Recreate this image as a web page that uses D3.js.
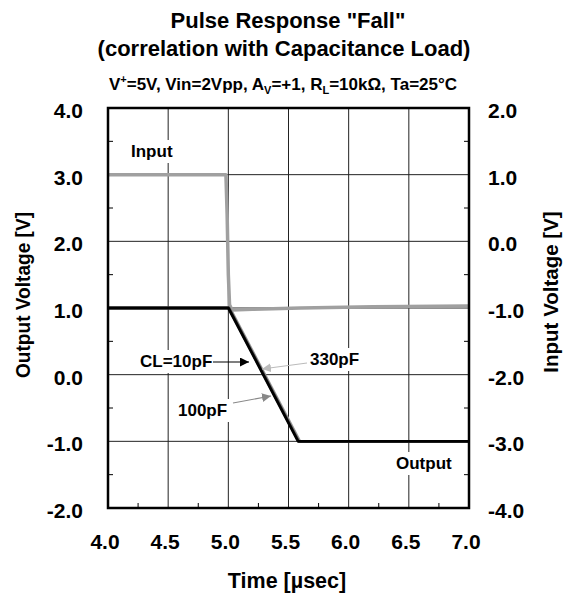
<!DOCTYPE html>
<html>
<head>
<meta charset="utf-8">
<script src="https://cdn.jsdelivr.net/npm/d3@7"></script>
<style>
  body { margin: 0; background: #fff; }
  text { font-family: "Liberation Sans", Arial, sans-serif; font-weight: bold; fill: #000; }
</style>
</head>
<body>
<div id="chart"></div>
<script>
// Data
const timeTicks = [4.0, 4.5, 5.0, 5.5, 6.0, 6.5, 7.0];
const outTicks = [-2, -1, 0, 1, 2, 3, 4];
const inTicks = [-4, -3, -2, -1, 0, 1, 2];

// Input pulse (right axis)
const inputT = [4.0, 4.98, 4.99, 5.0, 5.01, 5.03, 5.2, 5.6, 6.2, 7.0];
const inputV = [1.0, 1.0, 0.4, -0.5, -0.95, -1.03, -1.02, -1.0, -0.98, -0.97];

// Output for each load capacitance (left axis)
const out10T = [4.0, 5.0, 5.58, 7.0];
const out10V = [1.0, 1.0, -1.0, -1.0];
const out100T = [4.0, 5.005, 5.585, 7.0];
const out100V = [1.0, 1.0, -1.0, -1.0];
const out330T = [4.0, 5.012, 5.595, 7.0];
const out330V = [1.0, 1.0, -1.0, -1.0];

// Layout
const margin = { top: 108, right: 108, bottom: 86, left: 108 },
    width = 577 - margin.left - margin.right,
    height = 594 - margin.top - margin.bottom;

const svg = d3.select("#chart")
    .append("svg")
    .attr("width", 577)
    .attr("height", 594);

const g = svg.append("g")
    .attr("transform", `translate(${margin.left},${margin.top})`);

// Scales
const x = d3.scaleLinear().domain([4, 7]).range([0, width]);
const yL = d3.scaleLinear().domain([-2, 4]).range([height, 0]);
const yR = d3.scaleLinear().domain([-4, 2]).range([height, 0]);

// Titles
svg.append("text").attr("x", 288).attr("y", 28).attr("text-anchor", "middle")
    .style("font-size", "22px").text('Pulse Response "Fall"');
svg.append("text").attr("x", 284).attr("y", 56).attr("text-anchor", "middle")
    .style("font-size", "22px").text("(correlation with Capacitance Load)");

const sub = svg.append("text").attr("x", 283).attr("y", 90).attr("text-anchor", "middle")
    .style("font-size", "17px");
sub.append("tspan").text("V");
sub.append("tspan").attr("dy", -7).style("font-size", "11px").text("+");
sub.append("tspan").attr("dy", 7).text("=5V, Vin=2Vpp, A");
sub.append("tspan").attr("dy", 4).style("font-size", "11px").text("V");
sub.append("tspan").attr("dy", -4).text("=+1, R");
sub.append("tspan").attr("dy", 4).style("font-size", "11px").text("L");
sub.append("tspan").attr("dy", -4).text("=10kΩ, Ta=25°C");

// Grid lines
g.append("g")
    .selectAll("line")
    .data(timeTicks.slice(1, -1))
    .join("line")
    .attr("x1", d => x(d)).attr("x2", d => x(d))
    .attr("y1", 0).attr("y2", height)
    .attr("stroke", "#222").attr("stroke-width", 1);

g.append("g")
    .selectAll("line")
    .data(outTicks.slice(1, -1))
    .join("line")
    .attr("x1", 0).attr("x2", width)
    .attr("y1", d => yL(d)).attr("y2", d => yL(d))
    .attr("stroke", "#222").attr("stroke-width", 1);

// Minor ticks (inside)
const minorX = d3.range(4.25, 7, 0.5);
g.append("g").selectAll("line").data(minorX).join("line")
    .attr("x1", d => x(d)).attr("x2", d => x(d))
    .attr("y1", height).attr("y2", height - 5)
    .attr("stroke", "#000").attr("stroke-width", 1);

const minorY = d3.range(-1.5, 4, 1);
g.append("g").selectAll("line").data(minorY).join("line")
    .attr("x1", 0).attr("x2", 5)
    .attr("y1", d => yL(d)).attr("y2", d => yL(d))
    .attr("stroke", "#000").attr("stroke-width", 1);
g.append("g").selectAll("line").data(minorY).join("line")
    .attr("x1", width).attr("x2", width - 5)
    .attr("y1", d => yL(d)).attr("y2", d => yL(d))
    .attr("stroke", "#000").attr("stroke-width", 1);

// Label with a white box that hides the grid behind it
function boxLabel(px, py, txt) {
    const t = g.append("text").attr("x", px).attr("y", py)
        .style("font-size", "17px").text(txt);
    const b = t.node().getBBox();
    g.insert("rect", "text")
        .attr("x", b.x - 3).attr("y", b.y - 2)
        .attr("width", b.width + 6).attr("height", b.height + 4)
        .attr("fill", "#fff");
    return t;
}

// Lines
const lineL = d3.line().x(d => x(d[0])).y(d => yL(d[1]));
const lineR = d3.line().x(d => x(d[0])).y(d => yR(d[1]));

g.append("path").datum(d3.zip(inputT, inputV))
    .attr("d", lineR)
    .attr("fill", "none").attr("stroke", "#a0a0a0").attr("stroke-width", 3.5)
    .attr("stroke-linejoin", "round");

const outputs = [
    { t: out330T, v: out330V, color: "#9a9a9a" },
    { t: out100T, v: out100V, color: "#555" },
    { t: out10T, v: out10V, color: "#000" }
];
outputs.forEach(s => {
    g.append("path").datum(d3.zip(s.t, s.v))
        .attr("d", lineL)
        .attr("fill", "none").attr("stroke", s.color).attr("stroke-width", 2.8)
        .attr("stroke-linejoin", "round");
});

// Frame
g.append("rect").attr("x", 0).attr("y", 0).attr("width", width).attr("height", height)
    .attr("fill", "none").attr("stroke", "#000").attr("stroke-width", 2.5);

// Tick labels
svg.append("g").selectAll("text").data(timeTicks).join("text")
    .attr("x", d => margin.left + x(d) - 3).attr("y", 549)
    .attr("text-anchor", "middle").style("font-size", "21px")
    .text(d => d.toFixed(1));

svg.append("g").selectAll("text").data(outTicks).join("text")
    .attr("x", 83).attr("y", d => margin.top + yL(d)).attr("dy", "0.48em")
    .attr("text-anchor", "end").style("font-size", "21px")
    .text(d => d.toFixed(1));

svg.append("g").selectAll("text").data(inTicks).join("text")
    .attr("x", 488).attr("y", d => margin.top + yR(d)).attr("dy", "0.48em")
    .attr("text-anchor", "start").style("font-size", "21px")
    .text(d => d.toFixed(1));

// Axis titles
svg.append("text").attr("x", 287).attr("y", 588).attr("text-anchor", "middle")
    .style("font-size", "21.5px").text("Time [µsec]");

svg.append("text").attr("transform", "translate(30,295) rotate(-90)")
    .attr("text-anchor", "middle").style("font-size", "19.5px")
    .attr("textLength", 166).attr("lengthAdjust", "spacingAndGlyphs")
    .text("Output Voltage [V]");

svg.append("text").attr("transform", "translate(558,292) rotate(-90)")
    .attr("text-anchor", "middle").style("font-size", "20.5px").text("Input Voltage [V]");

// Annotations
boxLabel(131 - margin.left, 157 - margin.top, "Input");
boxLabel(396 - margin.left, 469 - margin.top, "Output");
boxLabel(140 - margin.left, 367 - margin.top, "CL=10pF");
boxLabel(178 - margin.left, 416 - margin.top, "100pF");
boxLabel(310 - margin.left, 365 - margin.top, "330pF");

// Arrows
const defs = svg.append("defs");
[["a10", "#000"], ["a100", "#888"], ["a330", "#bbb"]].forEach(([id, c]) => {
    defs.append("marker").attr("id", id)
        .attr("viewBox", "0 0 10 10").attr("refX", 10).attr("refY", 5)
        .attr("markerWidth", 9).attr("markerHeight", 9)
        .attr("markerUnits", "userSpaceOnUse")
        .attr("orient", "auto")
        .append("path").attr("d", "M0,0 L10,5 L0,10 Z").attr("fill", c);
});

const arrows = [
    { x1: 213, y1: 362, x2: 249, y2: 362, c: "#000", m: "a10" },
    { x1: 233, y1: 403, x2: 271, y2: 396, c: "#888", m: "a100" },
    { x1: 307, y1: 363, x2: 262, y2: 369, c: "#bbb", m: "a330" }
];
svg.append("g").selectAll("line").data(arrows).join("line")
    .attr("x1", d => d.x1).attr("y1", d => d.y1)
    .attr("x2", d => d.x2).attr("y2", d => d.y2)
    .attr("stroke", d => d.c).attr("stroke-width", 1.2)
    .attr("marker-end", d => `url(#${d.m})`);
</script>
</body>
</html>
